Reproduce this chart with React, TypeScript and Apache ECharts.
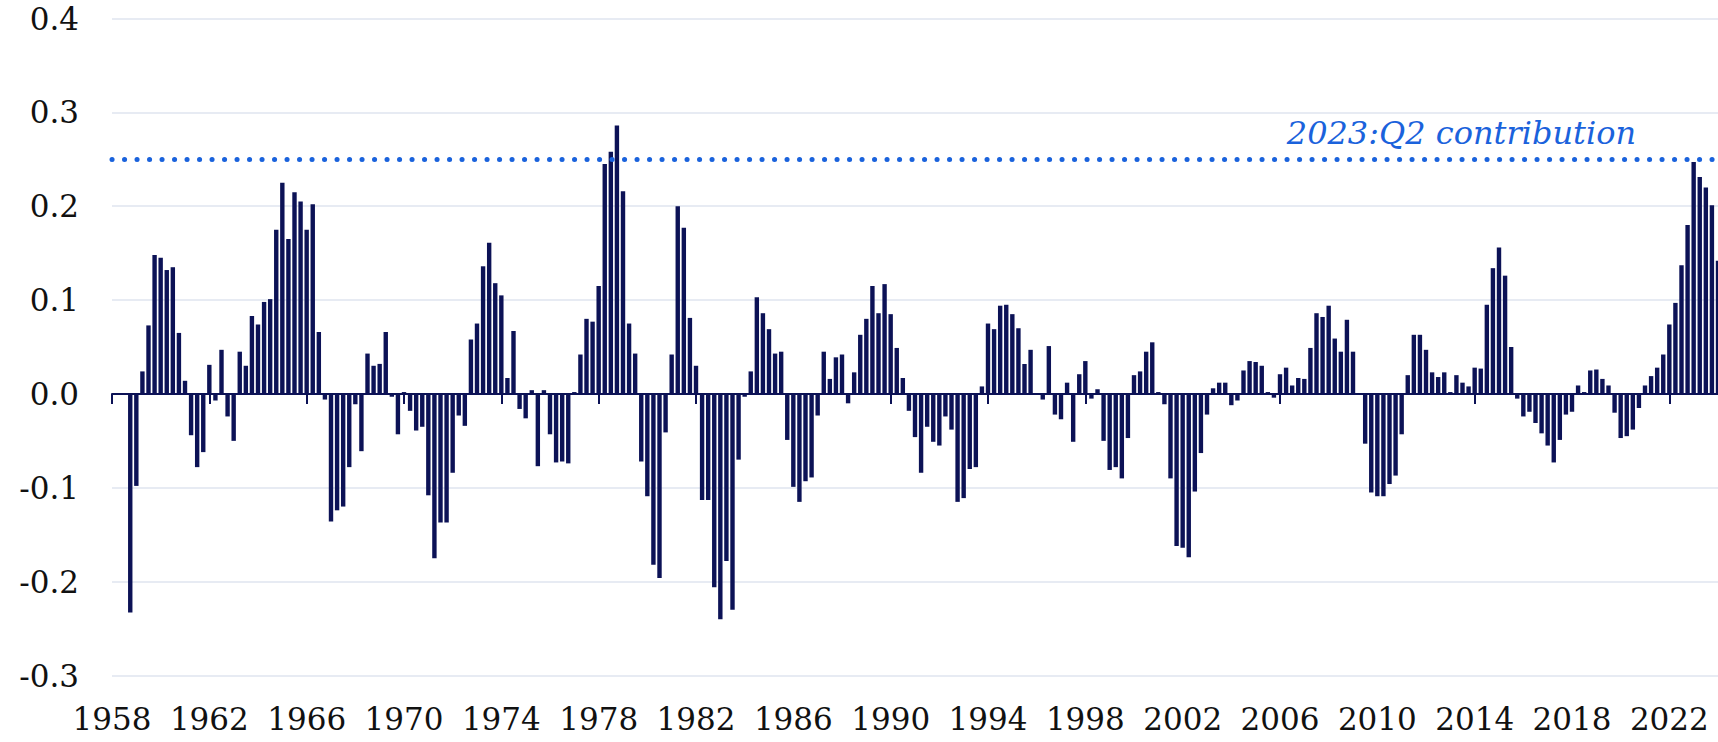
import React, { useEffect, useRef } from "react";
import * as echarts from "echarts";

// Quarterly contributions, first category 1958:Q2 (first three quarters not shown)
const START_YEAR = 1958;
const START_QUARTER = 2;

const values1958_1967: (number | null)[] = [
  null, null, null, -0.233, -0.098, 0.024, 0.073, 0.148, 0.145, 0.132,
  0.135, 0.065, 0.014, -0.044, -0.078, -0.062, 0.031, -0.007, 0.047, -0.024,
  -0.05, 0.045, 0.03, 0.083, 0.074, 0.098, 0.101, 0.175, 0.225, 0.165,
  0.215, 0.205, 0.175, 0.202, 0.066, -0.006, -0.136, -0.124, -0.12, -0.078,
];
const values1968_1977: number[] = [
  -0.011, -0.061, 0.043, 0.03, 0.032, 0.066, -0.003, -0.043, 0.002, -0.018,
  -0.039, -0.035, -0.108, -0.175, -0.137, -0.137, -0.084, -0.023, -0.034, 0.058,
  0.075, 0.136, 0.161, 0.118, 0.105, 0.017, 0.067, -0.016, -0.026, 0.004,
  -0.077, 0.004, -0.043, -0.073, -0.072, -0.074, 0.002, 0.042, 0.08, 0.077,
];
const values1978_1987: number[] = [
  0.115, 0.245, 0.258, 0.286, 0.216, 0.075, 0.043, -0.072, -0.109, -0.182,
  -0.196, -0.041, 0.042, 0.2, 0.177, 0.081, 0.03, -0.113, -0.113, -0.206,
  -0.24, -0.178, -0.23, -0.07, -0.003, 0.024, 0.103, 0.086, 0.069, 0.043,
  0.045, -0.049, -0.099, -0.115, -0.093, -0.089, -0.023, 0.045, 0.016, 0.039,
];
const values1988_1997: number[] = [
  0.042, -0.01, 0.023, 0.063, 0.08, 0.115, 0.086, 0.117, 0.085, 0.049,
  0.017, -0.018, -0.046, -0.084, -0.035, -0.051, -0.055, -0.024, -0.038, -0.115,
  -0.111, -0.08, -0.078, 0.008, 0.075, 0.069, 0.094, 0.095, 0.085, 0.07,
  0.032, 0.047, 0.001, -0.006, 0.051, -0.022, -0.027, 0.012, -0.051, 0.021,
];
const values1998_2007: number[] = [
  0.035, -0.005, 0.005, -0.05, -0.081, -0.078, -0.09, -0.047, 0.02, 0.024,
  0.045, 0.055, 0.002, -0.011, -0.09, -0.162, -0.164, -0.174, -0.104, -0.063,
  -0.022, 0.006, 0.012, 0.012, -0.012, -0.007, 0.025, 0.035, 0.034, 0.03,
  0.002, -0.004, 0.021, 0.028, 0.009, 0.017, 0.016, 0.049, 0.086, 0.082,
];
const values2008_2017: number[] = [
  0.094, 0.059, 0.045, 0.079, 0.045, 0.001, -0.053, -0.105, -0.109, -0.109,
  -0.096, -0.087, -0.043, 0.02, 0.063, 0.063, 0.047, 0.023, 0.018, 0.023,
  0.002, 0.02, 0.012, 0.008, 0.028, 0.027, 0.095, 0.134, 0.156, 0.126,
  0.05, -0.005, -0.024, -0.019, -0.031, -0.042, -0.055, -0.073, -0.049, -0.022,
];
const values2018_2024: number[] = [
  -0.019, 0.009, 0.002, 0.025, 0.026, 0.016, 0.009, -0.02, -0.047, -0.045,
  -0.038, -0.015, 0.009, 0.019, 0.028, 0.042, 0.074, 0.097, 0.137, 0.18,
  0.247, 0.231, 0.22, 0.201, 0.142,
];

const contribution: (number | null)[] = [
  ...values1958_1967,
  ...values1968_1977,
  ...values1978_1987,
  ...values1988_1997,
  ...values1998_2007,
  ...values2008_2017,
  ...values2018_2024,
];

const quarters: string[] = contribution.map((_, i) => {
  const q = START_QUARTER - 1 + i;
  return `${START_YEAR + Math.floor(q / 4)}:Q${(q % 4) + 1}`;
});

const reference2023Q2 = 0.2455;
const referenceLabel = "2023:Q2 contribution";
const yTicks = { min: -0.3, max: 0.4, interval: 0.1 };

const NAVY = "#0c1256";
const BLUE = "#1a62dc";
const SERIF = 'Georgia, "DejaVu Serif", serif';

export default function App() {
  const ref = useRef<HTMLDivElement>(null);

  useEffect(() => {
    if (!ref.current) return;
    const chart = echarts.init(ref.current, null, { renderer: "svg" });
    chart.setOption({
      animation: false,
      backgroundColor: "#ffffff",
      grid: { left: 112, right: 0, top: 18.5, bottom: 66.5, containLabel: false },
      xAxis: [
        {
          type: "category",
          data: quarters,
          boundaryGap: false,
          position: "bottom",
          axisLine: { show: false, onZero: false },
          axisTick: { show: false },
          splitLine: { show: false },
          axisLabel: {
            interval: 15,
            margin: 28,
            color: "#111111",
            fontFamily: SERIF,
            fontSize: 31,
            formatter: (v: string) => v.slice(0, 4),
          },
        },
        {
          type: "category",
          data: quarters,
          boundaryGap: false,
          position: "bottom",
          axisLine: { show: true, onZero: true, lineStyle: { color: NAVY, width: 2 } },
          axisTick: {
            show: true,
            interval: 15,
            length: 10,
            lineStyle: { color: NAVY, width: 2 },
          },
          axisLabel: { show: false },
          splitLine: { show: false },
        },
      ],
      yAxis: {
        type: "value",
        min: yTicks.min,
        max: yTicks.max,
        interval: yTicks.interval,
        axisLine: { show: false },
        axisTick: { show: false },
        splitLine: { show: true, lineStyle: { color: "#dfe4ef", width: 1.5 } },
        axisLabel: {
          margin: 33,
          color: "#111111",
          fontFamily: SERIF,
          fontSize: 31,
          formatter: (v: number) => v.toFixed(1),
        },
      },
      series: [
        {
          type: "bar",
          xAxisIndex: 0,
          data: contribution,
          barWidth: 4.4,
          itemStyle: { color: NAVY },
          markLine: {
            silent: true,
            symbol: ["none", "none"],
            label: { show: false },
            lineStyle: {
              color: BLUE,
              width: 5,
              type: [0.1, 12.4],
              cap: "round",
            },
            data: [{ yAxis: reference2023Q2 }],
          },
        },
      ],
      graphic: [
        {
          type: "text",
          x: 1636,
          y: 133,
          style: {
            text: referenceLabel,
            align: "right",
            verticalAlign: "middle",
            fontFamily: SERIF,
            fontStyle: "italic",
            fontSize: 32,
            fill: BLUE,
          },
        },
      ],
    });
    return () => chart.dispose();
  }, []);

  return (
    <div
      style={{
        position: "fixed",
        left: 0,
        top: 0,
        width: 1718,
        height: 742,
        overflow: "hidden",
        background: "#ffffff",
      }}
    >
      <div ref={ref} style={{ width: 1718, height: 742 }} />
    </div>
  );
}
